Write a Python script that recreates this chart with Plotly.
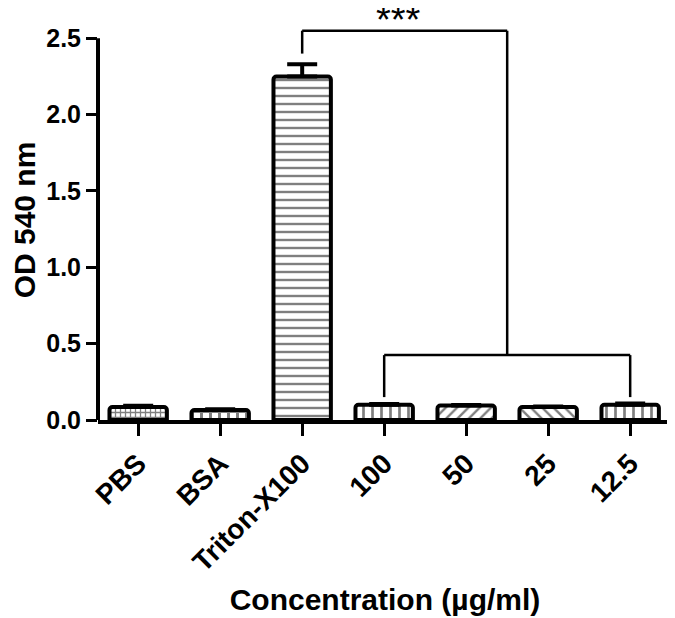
import plotly.graph_objects as go

categories = ["PBS", "BSA", "Triton-X100", "100", "50", "25", "12.5"]
values = [0.085, 0.065, 2.25, 0.10, 0.095, 0.085, 0.10]
errors = [0.008, 0.005, 0.08, 0.004, 0.004, 0.003, 0.008]
patterns = ["+", "+", "-", "|", "/", "\\", "|"]
pattern_sizes = [5, 9, 8, 9, 8, 8, 9]
pattern_solid = [0.45, 0.55, 0.3, 0.3, 0.3, 0.3, 0.3]
y_ticks = [0.0, 0.5, 1.0, 1.5, 2.0, 2.5]
y_ticklabels = ["0.0", "0.5", "1.0", "1.5", "2.0", "2.5"]
y_range_max = 2.62

# significance bracket levels (data units)
top_bracket_y = 2.55
top_left_leg = 2.40
low_bracket_y = 0.425
low_leg = 0.15

FONT = "Liberation Sans, Arial, sans-serif"

fig = go.Figure()
fig.add_trace(go.Bar(
    x=list(range(len(categories))),
    y=values,
    width=0.7,
    marker=dict(
        color="white",
        line=dict(color="black", width=4),
        pattern=dict(shape=patterns, size=pattern_sizes, solidity=pattern_solid,
                     fgcolor="black", bgcolor="white", fillmode="overlay"),
        cornerradius=3,
    ),
    error_y=dict(type="data", symmetric=False, array=errors,
                 arrayminus=[0] * len(errors), color="black", thickness=4, width=15),
    showlegend=False,
))

line = dict(color="black", width=2.5)
mid_low = (3 + 6) / 2
# top bracket: Triton-X100 to the centre of the lower bracket
fig.add_shape(type="line", x0=2, x1=2, y0=top_left_leg, y1=top_bracket_y, xref="x", yref="y", line=line)
fig.add_shape(type="line", x0=2, x1=mid_low, y0=top_bracket_y, y1=top_bracket_y, xref="x", yref="y", line=line)
fig.add_shape(type="line", x0=mid_low, x1=mid_low, y0=top_bracket_y, y1=low_bracket_y, xref="x", yref="y", line=line)
# lower bracket over the sample concentrations
fig.add_shape(type="line", x0=3, x1=6, y0=low_bracket_y, y1=low_bracket_y, xref="x", yref="y", line=line)
fig.add_shape(type="line", x0=3, x1=3, y0=low_bracket_y, y1=low_leg, xref="x", yref="y", line=line)
fig.add_shape(type="line", x0=6, x1=6, y0=low_bracket_y, y1=low_leg, xref="x", yref="y", line=line)
# y axis line stopping at the last tick (2.5)
fig.add_shape(type="line", x0=0, x1=0, y0=0, y1=y_ticks[-1] / y_range_max,
              xref="paper", yref="paper", line=dict(color="black", width=4))

fig.add_annotation(x=(2 + mid_low) / 2, y=top_bracket_y, xref="x", yref="y",
                   text="***", showarrow=False, yanchor="middle", yshift=11, xshift=-6,
                   font=dict(family=FONT, size=38, color="black"))

# the page body adds an 8 px offset, so the figure is sized to compensate
fig.update_layout(
    width=667, height=610,
    margin=dict(l=90, r=3, t=12, b=198),
    plot_bgcolor="white", paper_bgcolor="white",
)
fig.update_xaxes(
    automargin=False,
    range=[-0.49, 6.51],
    tickmode="array", tickvals=list(range(len(categories))), ticktext=categories,
    tickangle=-45,
    showline=True, linecolor="black", linewidth=4,
    ticks="outside", ticklen=12, tickwidth=3, tickcolor="black",
    tickfont=dict(family=FONT, size=28, color="black", weight="bold"),
    showgrid=False, zeroline=False,
    title=dict(text="Concentration (µg/ml)", standoff=13,
               font=dict(family=FONT, size=30, color="black", weight="bold")),
)
fig.update_yaxes(
    automargin=False,
    range=[0, y_range_max],
    tickmode="array", tickvals=y_ticks, ticktext=y_ticklabels,
    showline=False,
    ticks="outside", ticklen=11, tickwidth=3, tickcolor="black",
    tickfont=dict(family=FONT, size=25, color="black", weight="bold"),
    showgrid=False, zeroline=False,
    title=dict(text="OD 540 nm", standoff=30,
               font=dict(family=FONT, size=30, color="black", weight="bold")),
)

fig.write_html("out.html")
